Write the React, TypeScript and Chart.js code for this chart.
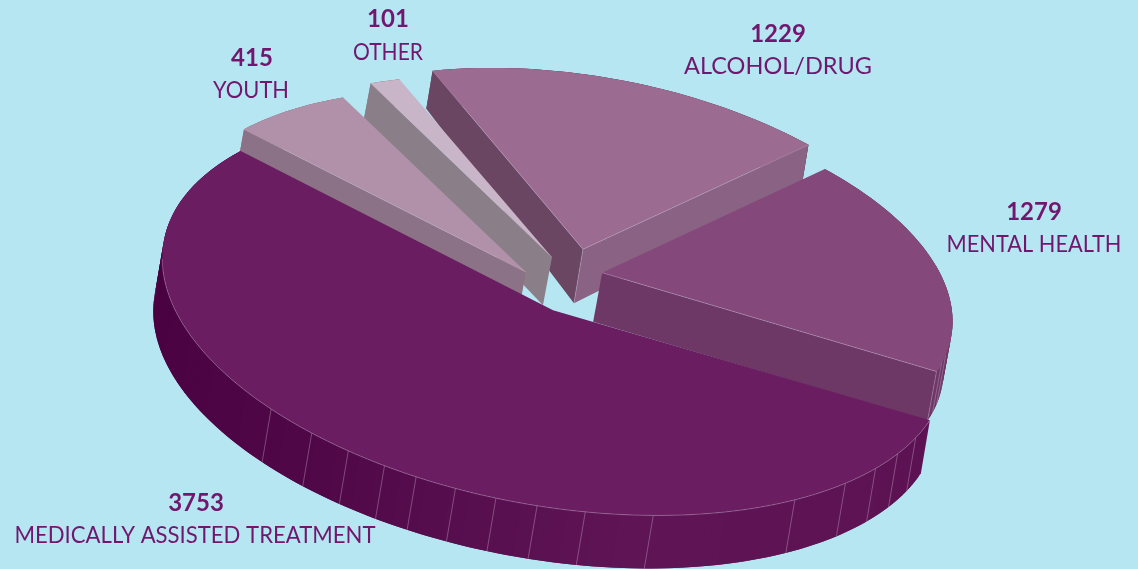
import React, { useEffect, useRef } from "react";
import { Chart, registerables } from "chart.js";
Chart.register(...registerables);

// ---- data ----
const categories = ["MEDICALLY ASSISTED TREATMENT", "YOUTH", "OTHER", "ALCOHOL/DRUG", "MENTAL HEALTH"];
const values = [3753, 415, 101, 1229, 1279];

// ---- styles ----
const topColors = ["#6A1D60", "#B191A9", "#C8B6C8", "#9C6B92", "#84487A"];
const startWall = ["#4D0645", "#8C7286", "#8A7F88", "#6A4662", "#6E3866"];
const endWall = ["#4D0645", "#8C7286", "#8A7F88", "#8A6283", "#6E3866"];
const sliceHeights = [53, 50, 48, 54, 49];
const paintOrder = [3, 4, 2, 1, 0];
const seamDegrees = [
  [6, 12, 18, 25, 35, 58, 68, 75, 81, 87, 93, 98, 104, 110.5, 118.5],
  [],
  [],
  [],
  [354, 357, 360],
];
const labelAnchors = [
  [196, 511, 195, 543],
  [252, 66, 251, 98],
  [388, 27, 388, 60],
  [778, 42, 778, 74],
  [1034, 220, 1034, 252],
];
const nameWidths = [361, 76, 70, 188, 175];

// camera that lays the unit pie onto the page: x/y columns, perspective, origin
const tilt = { ax: 345.02, ay: 101.36, bx: -108.67, by: 158.08, g: -0.0055, h: -0.005, ox: 553.05, oy: 310.15 };
// per slice explosion in pie units
const explodeX = [0, -0.1287, -0.0903, -0.0289, 0.0564];
const explodeY = [0, -0.1586, -0.2767, -0.3675, -0.2733];
const radiusScale = [1.0847, 0.9782, 0.9755, 0.9767, 0.9657];
const angleNudge = [-0.0029, -0.0059, -0.0023, 0.0061, 0.0046];

function project(u: number, v: number) {
  const w = 1 + tilt.g * u + tilt.h * v;
  return [tilt.ox + (tilt.ax * u + tilt.bx * v) / w, tilt.oy + (tilt.ay * u + tilt.by * v) / w];
}
function rim(i: number, t: number) {
  const a = t + angleNudge[i];
  return project(Math.cos(a) * radiusScale[i] + explodeX[i], Math.sin(a) * radiusScale[i] + explodeY[i]);
}
function hub(i: number) {
  return project(explodeX[i], explodeY[i]);
}
function down(q: number[], i: number) {
  const f = Math.min(1, Math.max(0, (q[1] - 70) / 180)) * 0.3 + 0.7;
  return [q[0] - 9 * f, q[1] + sliceHeights[i] * f];
}
function hex(c: string) {
  return [1, 3, 5].map((i) => parseInt(c.slice(i, i + 2), 16));
}
function mix(a: string, b: string, t: number) {
  const A = hex(a);
  const B = hex(b);
  return `rgb(${A.map((v, i) => Math.round(v + (B[i] - v) * t)).join(",")})`;
}
function mainWallShade(t: number) {
  if (t < 60) return mix("#5C1253", "#5F1555", t / 60);
  if (t < 110) return mix("#5F1555", "#4F0747", (t - 60) / 50);
  return mix("#4F0747", "#4A0141", Math.min(1, (t - 110) / 50));
}
const edgeColor = "rgba(205,180,205,0.55)";

const pie3d = {
  id: "pie3d",
  beforeDatasetsDraw(chart: any) {
    const ctx = chart.ctx;
    const els = chart.getDatasetMeta(0).data;
    const poly = (pts: number[][], c: string) => {
      ctx.beginPath();
      pts.forEach((q, k) => (k ? ctx.lineTo(q[0], q[1]) : ctx.moveTo(q[0], q[1])));
      ctx.closePath();
      ctx.fillStyle = c;
      ctx.fill();
    };
    const line = (pts: number[][]) => {
      ctx.beginPath();
      pts.forEach((q, k) => (k ? ctx.lineTo(q[0], q[1]) : ctx.moveTo(q[0], q[1])));
      ctx.strokeStyle = edgeColor;
      ctx.lineWidth = 0.7;
      ctx.stroke();
    };
    for (const i of paintOrder) {
      const el = els[i];
      const a = el.startAngle;
      const b = el.endAngle;
      const n = Math.max(6, Math.ceil((b - a) * 60));
      const arc: number[][] = [];
      for (let k = 0; k <= n; k++) arc.push(rim(i, a + ((b - a) * k) / n));
      const c = hub(i);
      const dc = down(c, i);
      const mid = rim(i, (a + b) / 2);
      for (let k = n - 1; k >= 0; k--) {
        const t = ((a + ((b - a) * k) / n) * 180) / Math.PI;
        const col = i === 0 ? mainWallShade(t) : startWall[i];
        const e = arc[Math.min(n, k + 2)];
        poly([arc[k], e, down(e, i), down(arc[k], i)], col);
      }
      const faces = [
        [arc[0], startWall[i]],
        [arc[n], endWall[i]],
      ] as [number[], string][];
      const seen: number[][][] = [];
      for (const [q, col] of faces) {
        const ex = q[0] - c[0];
        const ey = q[1] - c[1];
        const c1 = ex * (dc[1] - c[1]) - ey * (dc[0] - c[0]);
        const c2 = ex * (mid[1] - c[1]) - ey * (mid[0] - c[0]);
        if (c1 * c2 < 0) {
          poly([c, q, down(q, i), dc], col);
          seen.push([c, q]);
        }
      }
      for (const s of seamDegrees[i]) {
        const q = rim(i, (s * Math.PI) / 180);
        line([q, down(q, i)]);
      }
      if (seen.length === 2) line([c, dc]);
      poly([c, ...arc], el.options.backgroundColor);
      seen.forEach(line);
      if (i === 0) line(arc.slice(0, Math.round(n * 0.82)));
    }
    return false;
  },
  afterDraw(chart: any) {
    const ctx = chart.ctx;
    ctx.fillStyle = "#71176E";
    ctx.textAlign = "center";
    ctx.textBaseline = "alphabetic";
    categories.forEach((c, i) => {
      const p = labelAnchors[i];
      ctx.font = "bold 24px Lato";
      ctx.fillText(String(values[i]), p[0], p[1]);
      ctx.font = "24px Lato";
      ctx.fillText(c, p[2], p[3], nameWidths[i]);
    });
  },
};
const background = {
  id: "background",
  beforeDraw(chart: any) {
    const c = chart.ctx;
    c.fillStyle = "#B6E6F2";
    c.fillRect(0, 0, chart.width, chart.height);
  },
};

export default function App() {
  const ref = useRef<HTMLCanvasElement>(null);
  useEffect(() => {
    document.body.style.margin = "0";
    document.body.style.background = "#B6E6F2";
    const chart = new Chart(ref.current!, {
      type: "pie",
      data: { labels: categories, datasets: [{ data: values, backgroundColor: topColors, borderWidth: 0 }] },
      options: {
        animation: false,
        responsive: false,
        rotation: 90,
        plugins: { legend: { display: false }, tooltip: { enabled: false } },
      },
      plugins: [background, pie3d],
    } as any);
    return () => chart.destroy();
  }, []);
  return <canvas ref={ref} width={1138} height={569} style={{ display: "block" }} />;
}
